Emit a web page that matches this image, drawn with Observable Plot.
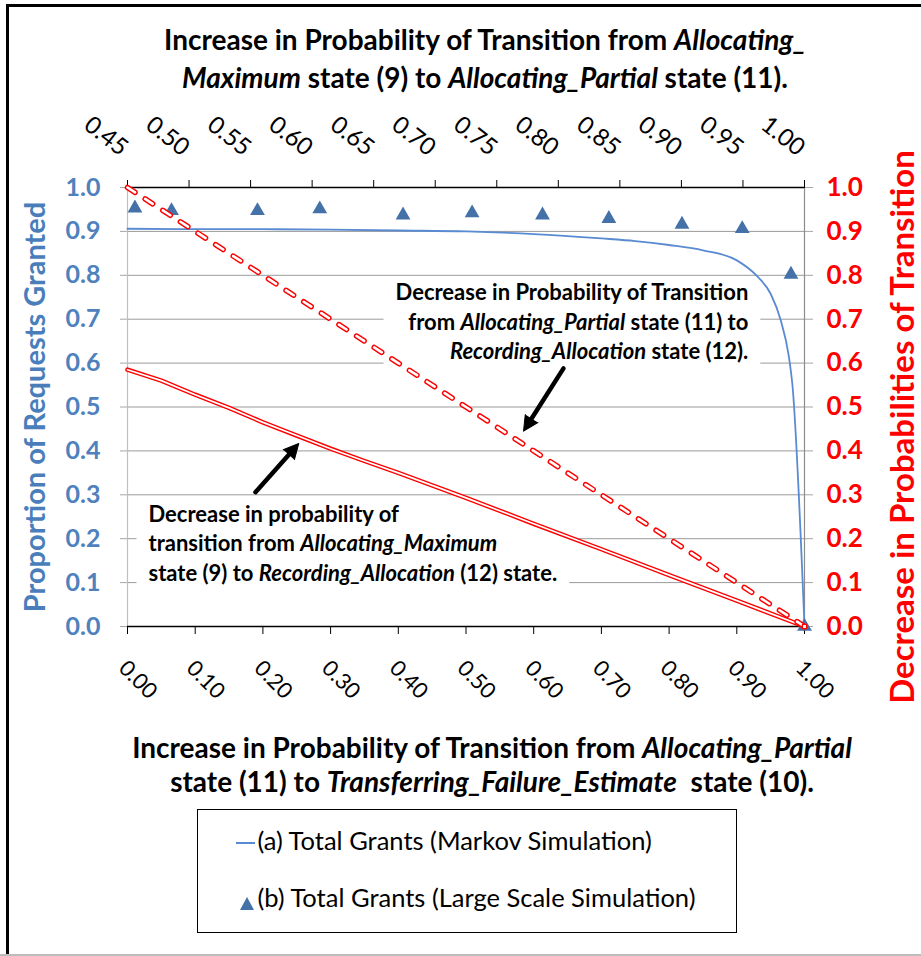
<!DOCTYPE html>
<html>
<head>
<meta charset="utf-8">
<script src="https://cdn.jsdelivr.net/npm/d3@7"></script>
<script src="https://cdn.jsdelivr.net/npm/@observablehq/plot@0.6"></script>
<style>
  body { margin: 0; background: #fff; font-family: Lato, "Open Sans", sans-serif; }
  #wrap { position: relative; width: 921px; height: 956px; overflow: hidden; background: #fff; }
  #chart { position: absolute; left: 0; top: 0; }
  .fr { position: absolute; background: #000; }
  .title { position: absolute; font-weight: bold; font-size: 28px; color: #000; text-align: center; white-space: pre; }
  #topTitle { left: 85px; width: 800px; top: 20px; line-height: 38px; }
  #bottomTitle { left: 92px; width: 800px; top: 730px; line-height: 34px; }
  #legend { position: absolute; left: 197px; top: 809px; width: 540px; height: 124px; border: 1.5px solid #000; box-sizing: border-box; }
  .lg { position: absolute; font-size: 25.5px; line-height: 30px; color: #000; white-space: pre; }
</style>
</head>
<body>
<div id="wrap">
  <div id="chart"></div>
  <div class="fr" style="left:6px;top:4px;width:915px;height:3px;"></div>
  <div class="fr" style="left:6px;top:4px;width:3px;height:952px;"></div>
  <div class="fr" style="left:0;top:954px;width:921px;height:2px;background:#bdbdbd;"></div>
  <div class="title" id="topTitle"><div>Increase in Probability of Transition from <i>Allocating_</i></div><div><i>Maximum</i> state (9) to <i>Allocating_Partial</i> state (11).</div></div>
  <div class="title" id="bottomTitle"><div>Increase in Probability of Transition from <i>Allocating_Partial</i></div><div>state (11) to <i>Transferring_Failure_Estimate</i>  state (10).</div></div>
  <div id="legend"></div>
</div>
<script>
// ---------- data ----------
const xBottomTicks = [0.00, 0.10, 0.20, 0.30, 0.40, 0.50, 0.60, 0.70, 0.80, 0.90, 1.00];
const xTopTicks = [0.45, 0.50, 0.55, 0.60, 0.65, 0.70, 0.75, 0.80, 0.85, 0.90, 0.95, 1.00];
const yTicks = [0.0, 0.1, 0.2, 0.3, 0.4, 0.5, 0.6, 0.7, 0.8, 0.9, 1.0];

// (a) Total Grants (Markov Simulation)
const markovX = [0, 0.1, 0.2, 0.3, 0.4, 0.5, 0.6, 0.7, 0.75, 0.8, 0.85, 0.9, 0.93, 0.95, 0.965, 0.977, 0.982, 1.0];
const markovY = [0.906, 0.905, 0.905, 0.904, 0.902, 0.900, 0.894, 0.884, 0.878, 0.869, 0.857, 0.834, 0.798, 0.758, 0.697, 0.614, 0.553, 0.0];

// (b) Total Grants (Large Scale Simulation)
const largeX = [0.011, 0.065, 0.192, 0.284, 0.407, 0.509, 0.613, 0.711, 0.819, 0.908, 0.980, 1.0];
const largeY = [0.953, 0.947, 0.947, 0.951, 0.937, 0.942, 0.937, 0.929, 0.916, 0.906, 0.802, 0.0];

// Decrease in probability: Allocating_Partial (11) -> Recording_Allocation (12)  (dashed)
const partialRecX = [0, 0.1, 0.2, 0.3, 0.4, 0.5, 0.6, 0.7, 0.8, 0.9, 1.0];
const partialRecY = [1.0, 0.9, 0.8, 0.7, 0.6, 0.5, 0.4, 0.3, 0.2, 0.1, 0.0];

// Decrease in probability: Allocating_Maximum (9) -> Recording_Allocation (12)  (solid)
const maxRecX = [0, 0.05, 0.1, 0.15, 0.2, 0.25, 0.3, 0.35, 0.4, 0.5, 0.6, 0.7, 0.8, 0.9, 1.0];
const maxRecY = [0.585, 0.560, 0.528, 0.498, 0.465, 0.435, 0.405, 0.377, 0.350, 0.293, 0.234, 0.176, 0.117, 0.059, 0.0];

// annotations (data coordinates)
const annotPartial = ["Decrease in Probability of Transition", "from *Allocating_Partial* state (11) to", "*Recording_Allocation* state (12)."];
const annotMaximum = ["Decrease in probability of", "transition from *Allocating_Maximum*", "state (9) to *Recording_Allocation* (12) state."];
const arrowFrom = [[0.644, 0.588], [0.189, 0.306]];
const arrowTo   = [[0.585, 0.445], [0.253, 0.417]];

const leftTitle = "Proportion of Requests Granted";
const rightTitle = "Decrease in Probabilities of Transition";
const legendLabels = ["(a) Total Grants (Markov Simulation)", "(b) Total Grants (Large Scale Simulation)"];

// ---------- build ----------
const W = 921, H = 720, MT = 187, MB = 94, ML = 127, MR = 117;
const kx = W - ML - MR, ky = H - MT - MB;   // pixels per unit on each axis

const markov = markovX.map((x, i) => ({x, y: markovY[i]}));
const large = largeX.map((x, i) => ({x, y: largeY[i]}));
const partialRec = partialRecX.map((x, i) => ({x, y: partialRecY[i]}));
const maxRec = maxRecX.map((x, i) => ({x, y: maxRecY[i]}));
const arrows = arrowFrom.map((f, i) => {
  const d = {x1: f[0], y1: f[1], x2: arrowTo[i][0], y2: arrowTo[i][1]};
  const px = (d.x2 - d.x1) * kx, py = -(d.y2 - d.y1) * ky;
  d.angle = Math.atan2(px, -py) * 180 / Math.PI;
  return d;
});
const topToX = t => (t - 0.45) / 0.55;
const fmt2 = d => d.toFixed(2);
const fmt1 = d => d.toFixed(1);

const BLUE_LINE = "#5A8BD2";
const BLUE_MARK = "#4472A8";
const BLUE_TEXT = "#4F81BD";

const svg = Plot.plot({
  width: W,
  height: H,
  marginTop: MT,
  marginBottom: MB,
  marginLeft: ML,
  marginRight: MR,
  x: {domain: [0, 1]},
  y: {domain: [0, 1]},
  style: {fontFamily: "Lato, 'Open Sans', sans-serif", background: "transparent", overflow: "visible", color: "#000"},
  marks: [
    Plot.gridY(yTicks.filter(d => d > 0 && d < 1), {stroke: "#9a9a9a", strokeOpacity: 1, strokeWidth: 1}),
    Plot.ruleX([0], {stroke: "#bfbfbf", strokeWidth: 1.2}),
    Plot.ruleX([1], {stroke: "#8c8c8c", strokeWidth: 1.2}),
    Plot.axisY(yTicks, {anchor: "left", tickSize: 7, tickPadding: 20, tickFormat: fmt1, fontSize: 25, fontWeight: "bold", fill: BLUE_TEXT, stroke: "#a6a6a6", label: null}),
    Plot.axisY(yTicks, {anchor: "right", tickSize: 8, tickPadding: 14, tickFormat: fmt1, fontSize: 26, fontWeight: "bold", fill: "#ff0000", stroke: "#a6a6a6", label: null}),
    Plot.axisX(xBottomTicks, {anchor: "bottom", tickSize: 8, stroke: "#000", fill: "none", label: null}),
    Plot.axisX(xTopTicks.map(topToX), {anchor: "top", tickSize: 8, stroke: "#000", fill: "none", label: null}),
    Plot.text(xBottomTicks, {x: d => d, frameAnchor: "bottom", dy: 43, dx: -10, rotate: 45, textAnchor: "start", text: fmt2, fontSize: 22, fill: "#000"}),
    Plot.text(xTopTicks, {x: topToX, frameAnchor: "top", dy: -44, dx: 3, rotate: 38, textAnchor: "end", text: fmt2, fontSize: 24, fill: "#000"}),
    Plot.ruleY([0], {stroke: "#000", strokeWidth: 1.3}),
    Plot.ruleY([1], {stroke: "#000", strokeWidth: 1.3}),
    Plot.line(markov, {x: "x", y: "y", stroke: BLUE_LINE, strokeWidth: 1.8, curve: "monotone-x"}),
    Plot.dot(large, {x: "x", y: "y", symbol: "triangle", r: 5.5, fill: BLUE_MARK, stroke: "none"}),
    Plot.line(maxRec, {x: "x", y: "y", stroke: "#ff0000", strokeWidth: 4.5}),
    Plot.line(maxRec, {x: "x", y: "y", stroke: "#ffffff", strokeWidth: 1.7}),
    Plot.line(partialRec, {x: "x", y: "y", stroke: "#ff0000", strokeWidth: 5.5, strokeDasharray: "9,12", strokeLinecap: "round"}),
    Plot.line(partialRec, {x: "x", y: "y", stroke: "#ffffff", strokeWidth: 2.6, strokeDasharray: "9,12", strokeLinecap: "round"}),
    Plot.dot([{x: 1, y: 0}], {x: "x", y: "y", symbol: "square", r: 2.3, stroke: "#ff0000", fill: "#fff", strokeWidth: 1.3}),
    // arrow shafts + filled heads
    Plot.arrow(arrows, {x1: "x1", y1: "y1", x2: "x2", y2: "y2", stroke: "#000", strokeWidth: 4.5, headLength: 0, insetEnd: 10}),
    Plot.vector(arrows, {x: "x2", y: "y2", rotate: "angle", length: 15, shape: "spike", anchor: "end", r: 7.5, fill: "#000", stroke: "#000", strokeWidth: 1}),
    Plot.text([{x: 0.917, y: 0.697, t: annotPartial.join("\n")}], {x: "x", y: "y", text: "t", textAnchor: "end", lineAnchor: "middle", lineHeight: 1.34, fontSize: 22, fontWeight: "bold", fill: "#000"}),
    Plot.text([{x: 0.031, y: 0.193, t: annotMaximum.join("\n")}], {x: "x", y: "y", text: "t", textAnchor: "start", lineAnchor: "middle", lineHeight: 1.34, fontSize: 22, fontWeight: "bold", fill: "#000"}),
    Plot.text([leftTitle], {text: d => d, frameAnchor: "left", textAnchor: "middle", dx: -92, rotate: -90, fontSize: 29, fontWeight: "bold", fill: "#4A7EBB"}),
    Plot.text([rightTitle], {text: d => d, frameAnchor: "right", textAnchor: "middle", dx: 99, dy: 20, rotate: -90, fontSize: 33, fontWeight: "bold", fill: "#ff0000"})
  ]
});
document.getElementById("chart").appendChild(svg);

// italic segments marked with *...*
const NS = "http://www.w3.org/2000/svg";
svg.querySelectorAll("text, tspan").forEach(el => {
  if (el.children.length === 0 && el.textContent.includes("*")) {
    const parts = el.textContent.split("*");
    el.textContent = "";
    parts.forEach((p, i) => {
      if (!p) return;
      const t = document.createElementNS(NS, "tspan");
      t.textContent = p;
      if (i % 2 === 1) t.setAttribute("font-style", "italic");
      el.appendChild(t);
    });
  }
});

// white text-box backgrounds behind annotations (drawn just above the gridlines)
const sr = svg.getBoundingClientRect();
const grid = svg.querySelector('[aria-label="y-grid"]');
const boxes = [];
svg.querySelectorAll("text").forEach(el => {
  const s = el.textContent;
  if (s.startsWith("Decrease in Probability of Transition") || s.startsWith("Decrease in probability of")) {
    const r = el.getBoundingClientRect();
    const rect = document.createElementNS(NS, "rect");
    rect.setAttribute("x", r.left - sr.left - 12);
    rect.setAttribute("y", r.top - sr.top - 2);
    rect.setAttribute("width", r.width + 24);
    rect.setAttribute("height", r.height + 4);
    rect.setAttribute("fill", "#fff");
    boxes.push(rect);
  }
});
boxes.forEach(b => { if (grid) grid.after(b); else svg.insertBefore(b, svg.firstChild); });

// legend
const lg = document.getElementById("legend");
lg.innerHTML =
  `<div style="position:absolute;left:37.5px;top:32px;width:19px;height:2px;background:${BLUE_LINE}"></div>` +
  `<div class="lg" style="left:59.5px;top:14.5px">${legendLabels[0]}</div>` +
  `<svg style="position:absolute;left:41.5px;top:86.5px" width="14" height="13"><polygon points="7,0 14,13 0,13" fill="${BLUE_MARK}"/></svg>` +
  `<div class="lg" style="left:59.5px;top:71.5px">${legendLabels[1]}</div>`;
</script>
</body>
</html>
